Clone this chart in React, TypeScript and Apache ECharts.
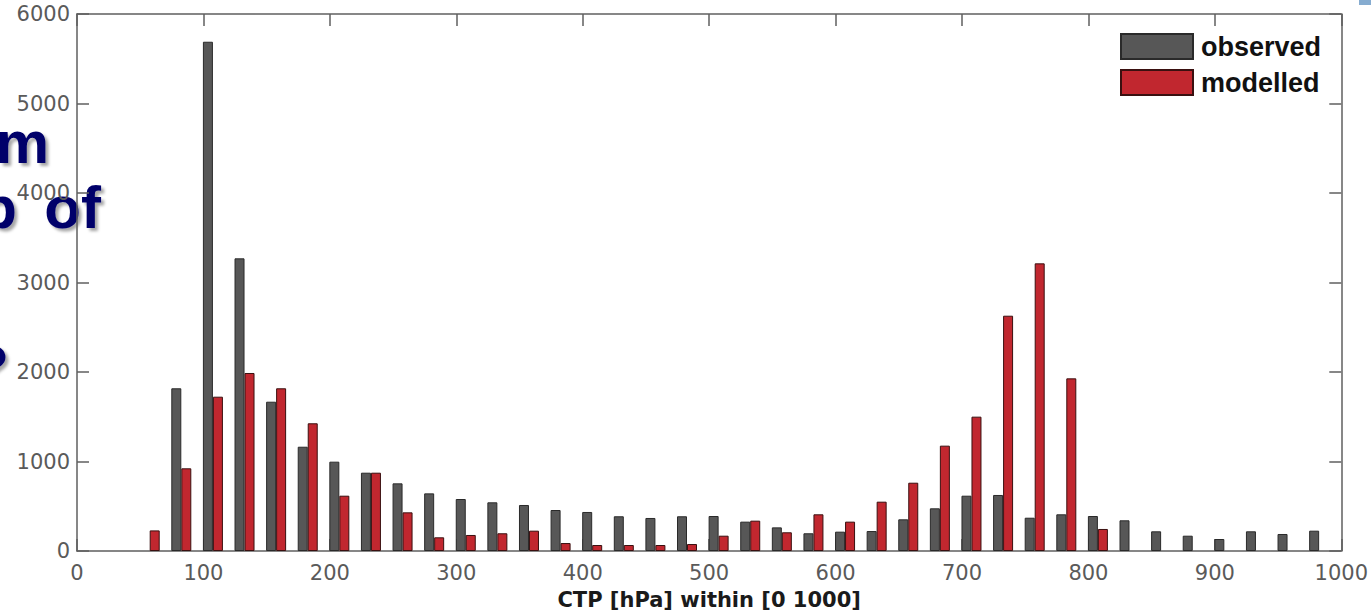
import React, { useEffect, useRef } from "react";
import * as echarts from "echarts";

const binCenters = [
  57.5, 82.5, 107.5, 132.5, 157.5, 182.5, 207.5, 232.5, 257.5, 282.5,
  307.5, 332.5, 357.5, 382.5, 407.5, 432.5, 457.5, 482.5, 507.5, 532.5,
  557.5, 582.5, 607.5, 632.5, 657.5, 682.5, 707.5, 732.5, 757.5, 782.5,
  807.5, 832.5, 857.5, 882.5, 907.5, 932.5, 957.5, 982.5,
];

const observed = [
  null, 1818, 5690, 3270, 1668, 1165, 998, 875, 756, 644,
  581, 544, 514, 458, 436, 388, 369, 388, 391, 328,
  264, 198, 216, 223, 354, 477, 618, 626, 372, 410,
  391, 343, 220, 171, 134, 220, 190, 227,
];

const modelled = [
  230, 924, 1724, 1989, 1818, 1427, 618, 875, 432, 153,
  179, 198, 227, 89, 67, 67, 67, 78, 171, 339,
  209, 410, 328, 551, 763, 1177, 1501, 2629, 3214, 1929,
  246, null, null, null, null, null, null, null,
];

const seriesNames = ["observed", "modelled"];
const xAxisTitle = "CTP [hPa] within [0 1000]";
const overlayWords = ["m", "p", "of", "?"];

const tickFont = "DejaVu Sans";
const axisColor = "#5f5f5f";

export default function App() {
  const ref = useRef<HTMLDivElement>(null);

  useEffect(() => {
    if (!ref.current) return;
    const chart = echarts.init(ref.current, undefined, { renderer: "svg" });
    const pair = (vals: (number | null)[]) =>
      binCenters.map((x, i) => (vals[i] == null ? [x, null] : [x, vals[i]]));

    const shadowText = {
      fill: "#00006b",
      fontFamily: "Liberation Sans",
      fontWeight: "bold",
      fontSize: 60,
      textShadowColor: "rgba(0,0,0,0.35)",
      textShadowBlur: 3,
      textShadowOffsetX: 3,
      textShadowOffsetY: 3,
    };

    const line = { show: true, onZero: false, lineStyle: { color: axisColor, width: 1.5 } };
    const tick = { show: true, inside: true, length: 12, lineStyle: { color: axisColor, width: 1.5 } };
    const plain = (v: number) => String(v);

    chart.setOption({
      animation: false,
      backgroundColor: "#ffffff",
      grid: { left: 77, right: 27, top: 14, bottom: 65 },
      legend: {
        data: seriesNames,
        orient: "vertical",
        left: 1115,
        top: 28,
        itemWidth: 72,
        itemHeight: 25,
        itemGap: 9,
        icon: "rect",
        textStyle: {
          fontFamily: "Liberation Sans",
          fontWeight: "bold",
          fontSize: 27,
          color: "#111",
          padding: [0, 0, 0, 3],
        },
      },
      xAxis: [
        {
          type: "value",
          min: 0,
          max: 1000,
          interval: 100,
          position: "bottom",
          name: xAxisTitle,
          nameLocation: "middle",
          nameGap: 38,
          nameTextStyle: {
            fontFamily: tickFont,
            fontWeight: "bold",
            fontSize: 21,
            color: "#1a1a1a",
          },
          axisLine: line,
          axisTick: tick,
          axisLabel: { fontFamily: tickFont, fontSize: 21, color: "#5a5a5a", margin: 11, formatter: plain },
          splitLine: { show: false },
        },
        {
          type: "value",
          min: 0,
          max: 1000,
          interval: 100,
          position: "top",
          axisLine: line,
          axisTick: tick,
          axisLabel: { show: false },
          splitLine: { show: false },
        },
      ],
      yAxis: [
        {
          type: "value",
          min: 0,
          max: 6000,
          interval: 1000,
          position: "left",
          axisLine: line,
          axisTick: tick,
          axisLabel: { fontFamily: tickFont, fontSize: 21, color: "#5a5a5a", margin: 7, formatter: plain },
          splitLine: { show: false },
        },
        {
          type: "value",
          min: 0,
          max: 6000,
          interval: 1000,
          position: "right",
          axisLine: line,
          axisTick: tick,
          axisLabel: { show: false },
          splitLine: { show: false },
        },
      ],
      series: [
        {
          name: seriesNames[0],
          type: "bar",
          xAxisIndex: 0,
          yAxisIndex: 0,
          barWidth: 10,
          barGap: "0%",
          itemStyle: { color: "#575757", borderColor: "#2a2a2a", borderWidth: 1 },
          data: pair(observed),
        },
        {
          name: seriesNames[1],
          type: "bar",
          xAxisIndex: 0,
          yAxisIndex: 0,
          barWidth: 10,
          barGap: "0%",
          itemStyle: { color: "#c1272f", borderColor: "#3a1010", borderWidth: 1 },
          data: pair(modelled),
        },
      ],
      graphic: [
        {
          type: "text",
          x: 49,
          y: 172,
          style: { ...shadowText, text: overlayWords[0], align: "right", verticalAlign: "bottom" },
        },
        {
          type: "text",
          x: 17,
          y: 237,
          style: { ...shadowText, text: overlayWords[1], align: "right", verticalAlign: "bottom" },
        },
        {
          type: "text",
          x: 101,
          y: 237,
          style: { ...shadowText, text: overlayWords[2], align: "right", verticalAlign: "bottom" },
        },
        {
          type: "text",
          x: 9,
          y: 336,
          style: { ...shadowText, text: overlayWords[3], align: "right", verticalAlign: "top" },
        },
        {
          type: "rect",
          shape: { x: 1359, y: 0, width: 12, height: 5 },
          style: { fill: "#86acd0" },
        },
      ],
    });
    return () => chart.dispose();
  }, []);

  return (
    <div
      ref={ref}
      style={{ position: "absolute", left: 0, top: 0, width: 1371, height: 616 }}
    />
  );
}
